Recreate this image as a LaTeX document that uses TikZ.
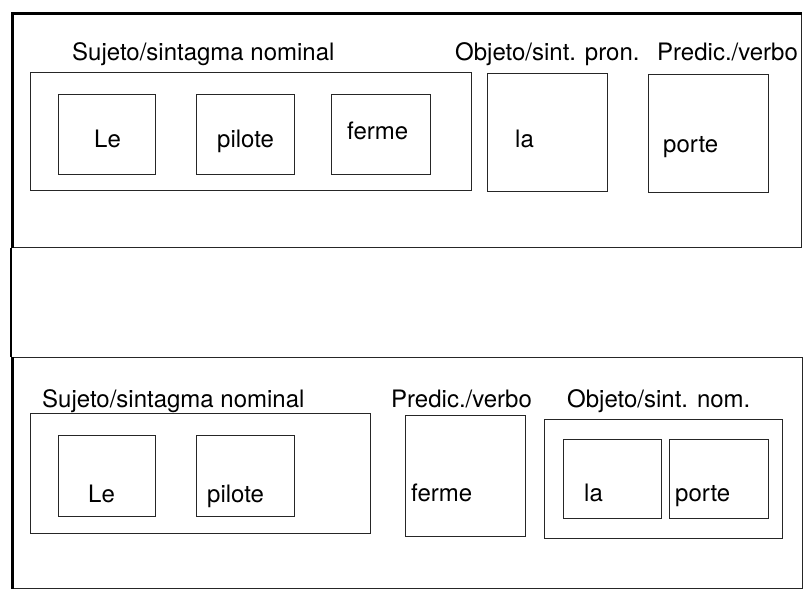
\documentclass[tikz,border=0pt]{standalone}
\usepackage{fontspec}
\setmainfont{TeX Gyre Heros}
\begin{document}
\begin{tikzpicture}[x=1bp,y=-1bp,
  box/.style={draw=black!85,line width=1.4bp,inner sep=0pt,anchor=north west},
  word/.style={inner sep=0pt,anchor=base west,font=\fontsize{24bp}{28bp}\selectfont},
  thick frame/.style={draw=black,line width=3bp}]
\useasboundingbox (0,0) rectangle (803,590);
% panels
\node[box,minimum width=788bp,minimum height=233bp] (p1) at (12.5,13.5) {};
\node[box,minimum width=789bp,minimum height=231bp] (p2) at (12.5,357) {};
\draw[thick frame] (p1.south west) -- (p1.north west) -- (p1.north east);
\draw[thick frame] (p2.north west) -- (p2.south west);
\draw[draw=black,line width=2bp] (p1.south west) ++(-1.5,0) coordinate (g1) -- (g1 |- p2.north west);
% top panel
\node[word] (l1) at (72,61) {Sujeto/sintagma nominal};
\node[box,minimum width=441bp,minimum height=118bp] (sn1) at (30,72) {};
\node[box,minimum width=97bp,minimum height=80bp] (b1) at (58,94) {};
\node[box,minimum width=98bp,minimum height=80bp] (b2) at (196,94) {};
\node[box,minimum width=99bp,minimum height=80bp] (b3) at (331,94) {};
\node[word] (w1) at (94,148) {Le};
\node[word] (w2) at (217,148) {pilote};
\node[word] (w3) at (347,140) {ferme};
\node[word] (l2) at (455,61) {Objeto/sint. pron.};
\node[box,minimum width=120bp,minimum height=118bp] (b4) at (487,73) {};
\node[word] (w4) at (515,148) {la};
\node[word] (l3) at (657,61) {Predic./verbo};
\node[box,minimum width=120bp,minimum height=118bp] (b5) at (648,74) {};
\node[word] (w5) at (663,153) {porte};
% bottom panel
\node[word] (l4) at (42,407) {Sujeto/sintagma nominal};
\node[box,minimum width=340bp,minimum height=120bp] (sn2) at (30,413) {};
\node[box,minimum width=97bp,minimum height=81bp] (c1) at (58,435) {};
\node[box,minimum width=98bp,minimum height=81bp] (c2) at (196,435) {};
\node[word] (v1) at (88,502) {Le};
\node[word] (v2) at (207,502) {pilote};
\node[word] (l5) at (391,407) {Predic./verbo};
\node[box,minimum width=120bp,minimum height=121bp] (c3) at (405,415) {};
\node[word] (v3) at (411,501) {ferme};
\node[word] (l6) at (567,407) {Objeto/sint. nom.};
\node[box,minimum width=238bp,minimum height=119bp] (on2) at (544,419) {};
\node[box,minimum width=98bp,minimum height=79bp] (c4) at (563,439) {};
\node[box,minimum width=99bp,minimum height=79bp] (c5) at (669,439) {};
\node[word] (v4) at (584,501) {la};
\node[word] (v5) at (675,501) {porte};
\end{tikzpicture}
\end{document}
